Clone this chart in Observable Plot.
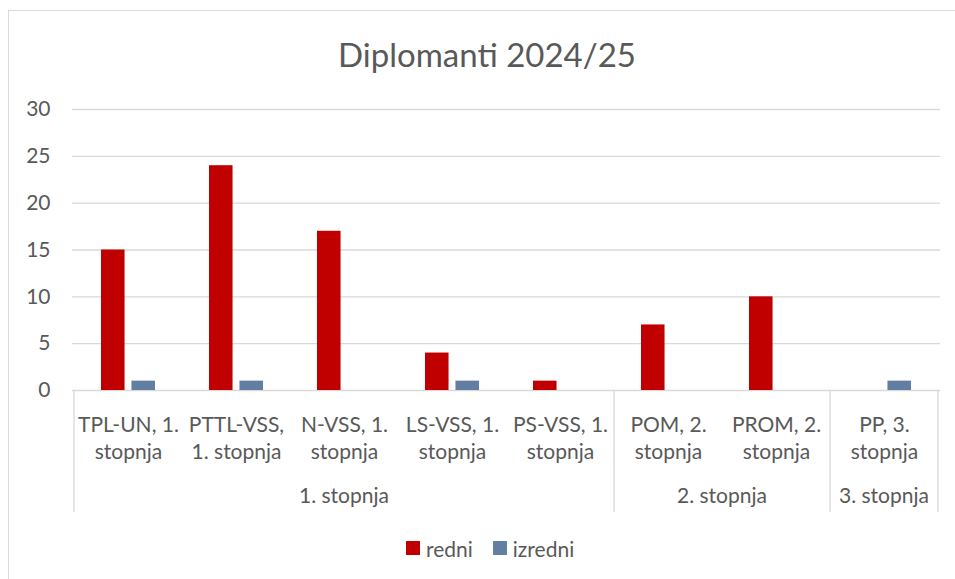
<!DOCTYPE html>
<html><head><meta charset="utf-8">
<script src="https://cdn.jsdelivr.net/npm/d3@7"></script>
<script src="https://cdn.jsdelivr.net/npm/@observablehq/plot@0.6"></script>
<style>
html,body{margin:0;padding:0;background:#fff;overflow:hidden;}
#wrap{position:relative;width:955px;height:579px;font-family:Lato,sans-serif;color:#595959;overflow:hidden;}
#border{position:absolute;left:8px;top:10px;width:1000px;height:620px;border:1px solid #d9d9d9;box-sizing:border-box;}
#title{position:absolute;left:8px;width:958px;top:34px;height:40px;line-height:40px;text-align:center;font-size:33px;}
#chart{position:absolute;left:0;top:90px;}
#legend{position:absolute;top:536px;left:406px;height:24px;display:flex;align-items:center;font-size:21px;}
#legend .sw{width:14px;height:14px;display:inline-block;margin-right:6px;}
#legend .it{display:flex;align-items:center;margin-right:20px;}
</style>
</head><body>
<div id="wrap">
  <div id="border"></div>
  <div id="title">Diplomanti 2024/25</div>
  <div id="chart"></div>
  <div id="legend"></div>
</div>
<script>
const categories = ["TPL-UN, 1. stopnja","PTTL-VSS, 1. stopnja","N-VSS, 1. stopnja","LS-VSS, 1. stopnja","PS-VSS, 1. stopnja","POM, 2. stopnja","PROM, 2. stopnja","PP, 3. stopnja"];
const catLabels = ["TPL-UN, 1.\nstopnja","PTTL-VSS,\n1. stopnja","N-VSS, 1.\nstopnja","LS-VSS, 1.\nstopnja","PS-VSS, 1.\nstopnja","POM, 2.\nstopnja","PROM, 2.\nstopnja","PP, 3.\nstopnja"];
const groups = ["1. stopnja","1. stopnja","1. stopnja","1. stopnja","1. stopnja","2. stopnja","2. stopnja","3. stopnja"];
const redni = [15,24,17,4,1,7,10,0];
const izredni = [1,1,0,1,0,0,0,1];
const yTicks = [0,5,10,15,20,25,30];
const seriesNames = ["redni","izredni"];
const colors = ["#c00000","#637ea3"];

const rows = categories.map((c,i)=>({cat:c, label:catLabels[i], group:groups[i], redni:redni[i], izredni:izredni[i]}));

function groupAxis(index, scales, values, dimensions) {
  const x = scales.x;
  const bw = x(categories[1]) - x(categories[0]);
  const y0 = dimensions.height - dimensions.marginBottom;
  const g = d3.create("svg:g");
  const names = [...new Set(groups)];
  const edges = [x(categories[0])];
  names.forEach(n => {
    const cs = categories.filter((c,i)=>groups[i]===n);
    const a = x(cs[0]), b = x(cs[cs.length-1]) + bw;
    edges.push(b);
    g.append("text").attr("x",(a+b)/2).attr("y",y0+113).attr("text-anchor","middle")
      .attr("font-size",21).attr("font-family","Lato").attr("fill","#595959").text(n);
  });
  edges.forEach(e => {
    g.append("line").attr("x1",e).attr("x2",e).attr("y1",y0).attr("y2",y0+122)
      .attr("stroke","#d9d9d9").attr("stroke-width",1.3);
  });
  return g.node();
}

const chart = Plot.plot({
  width: 955, height: 430,
  marginTop: 19, marginBottom: 130, marginLeft: 72, marginRight: 15,
  style: {fontFamily: "Lato", fontSize: "21px", color: "#595959", background: "transparent", overflow: "visible"},
  x: {domain: categories, padding: 0, axis: null},
  y: {domain: [0,30], axis: null},
  marks: [
    Plot.gridY(yTicks, {stroke: "#d9d9d9", strokeOpacity: 1, strokeWidth: 1.3}),
    Plot.axisY(yTicks, {tickSize: 0, tickPadding: 22, fontSize: 21, fill: "#595959"}),
    Plot.barY(rows, {x: "cat", y: "redni", fill: colors[0], insetLeft: 27, insetRight: 57.45}),
    Plot.barY(rows, {x: "cat", y: "izredni", fill: colors[1], insetLeft: 57.45, insetRight: 27}),
    Plot.text(rows, {x: "cat", text: "label", frameAnchor: "bottom", lineAnchor: "top", dy: 22, lineHeight: 1.3, fontSize: 21, fill: "#595959"}),
    Plot.ruleY([0], {stroke: "none", render: groupAxis})
  ]
});
document.getElementById("chart").appendChild(chart);

const leg = document.getElementById("legend");
seriesNames.forEach((n,i)=>{
  const it = document.createElement("span"); it.className = "it";
  const sw = document.createElement("span"); sw.className = "sw"; sw.style.background = colors[i];
  it.appendChild(sw); it.appendChild(document.createTextNode(n));
  leg.appendChild(it);
});
</script>
</body></html>
